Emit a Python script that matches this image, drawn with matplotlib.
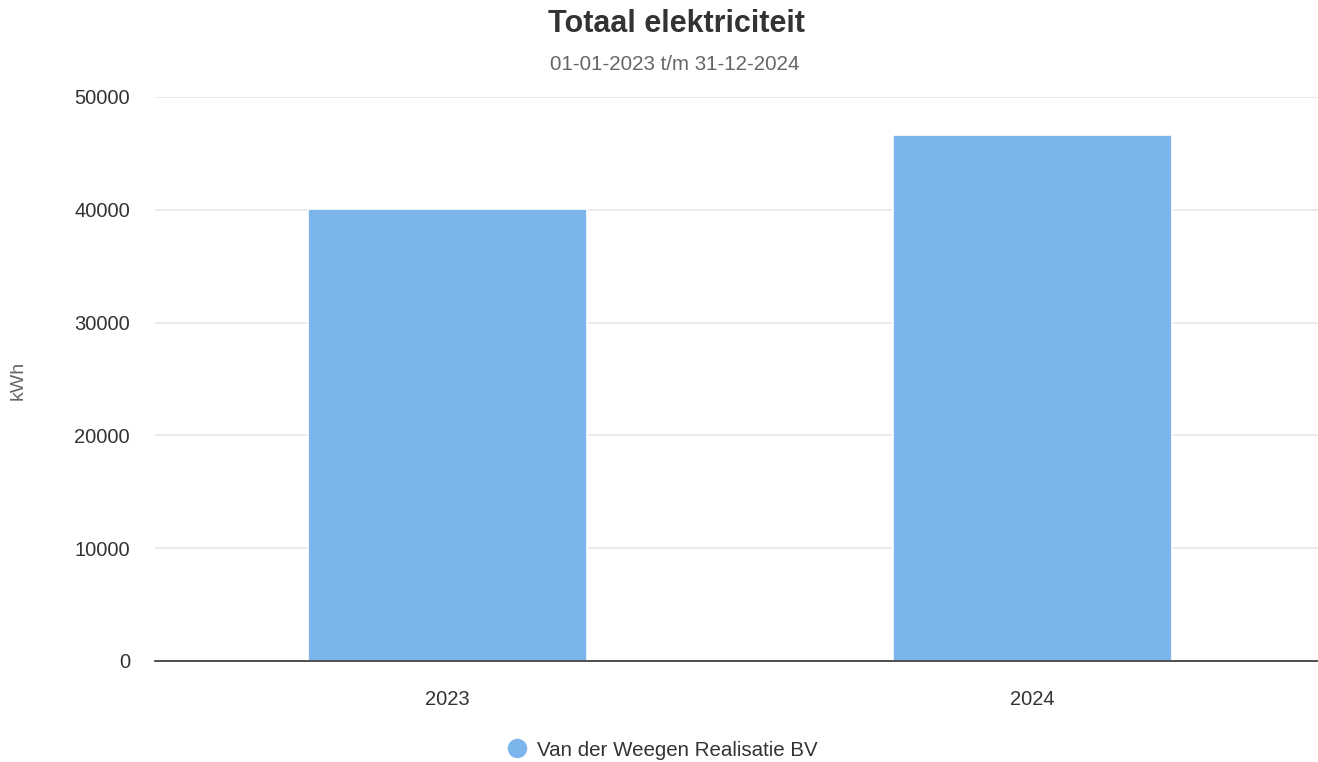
import matplotlib
matplotlib.use("Agg")
import matplotlib.pyplot as plt
from matplotlib.lines import Line2D

categories = ["2023", "2024"]
values = [40100, 46650]
series_name = "Van der Weegen Realisatie BV"
y_ticks = [0, 10000, 20000, 30000, 40000, 50000]

plt.rcParams['font.family'] = ['Liberation Sans', 'DejaVu Sans']

fig = plt.figure(figsize=(13.18, 7.62), dpi=100)
ax = fig.add_axes([155/1318, 101/762, 1170/1318, (661-97)/762])

x = list(range(len(categories)))
ax.bar(x, values, width=0.478, color="#7cb5ec", edgecolor="white", linewidth=1.2, zorder=3)

ax.set_xlim(-0.5, len(categories) - 0.5)
ax.set_ylim(0, 50000)
ax.set_yticks(y_ticks)
ax.set_yticklabels([str(v) for v in y_ticks])
ax.set_xticks(x)
ax.set_xticklabels(categories)
ax.tick_params(axis='y', length=0, pad=18, labelsize=14.5, labelcolor="#333333")
ax.tick_params(axis='x', length=0, pad=21, labelsize=14.5, labelcolor="#333333")
ax.grid(axis='y', color="#e6e6e6", linewidth=1.2, zorder=0)
for s in ["top", "right", "left"]:
    ax.spines[s].set_visible(False)
ax.spines["bottom"].set_color("#333333")
ax.spines["bottom"].set_linewidth(1.2)
ax.spines["bottom"].set_zorder(4)

fig.text(18/1318, 1 - 380/762, "kWh", rotation=90, ha="center", va="center",
         fontsize=14, color="#666666")

fig.text(676/1318, 1 - 24/762, "Totaal elektriciteit", ha="center", va="center",
         fontsize=22, fontweight="bold", color="#333333")
fig.text(675/1318, 1 - 64/762, "01-01-2023 t/m 31-12-2024", ha="center", va="center",
         fontsize=14.8, color="#666666")

handle = Line2D([], [], marker='o', linestyle='none', markersize=13,
                markerfacecolor="#7cb5ec", markeredgecolor="#7cb5ec")
fig.legend([handle], [series_name], loc="center", bbox_to_anchor=(657/1318, 1 - 750/762),
           frameon=False, fontsize=14.8, handletextpad=0.0, labelcolor="#333333")

fig.savefig("out.png", dpi=100)
